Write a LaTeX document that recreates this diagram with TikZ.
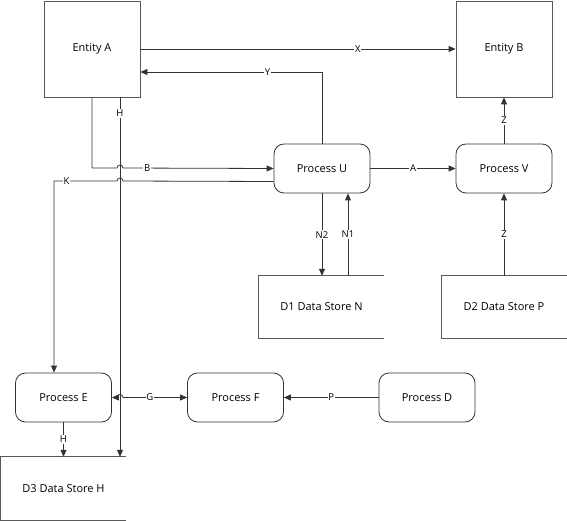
\documentclass[tikz,border=0pt]{standalone}
\usepackage{fontspec}
\setmainfont{Open Sans}
\usetikzlibrary{arrows.meta}

\begin{document}
\begin{tikzpicture}[x=1pt, y=-1pt,
entity/.style={rectangle, draw=black!65, line width=0.8pt, minimum width=96pt, minimum height=96pt, font=\fontsize{11}{13}\selectfont},
process/.style={rectangle, rounded corners=10pt, draw=black!80, line width=0.8pt, minimum width=96pt, minimum height=49pt, font=\fontsize{11}{13}\selectfont},
store/.style={minimum width=125pt, minimum height=62pt, font=\fontsize{11}{13}\selectfont},
flow/.style={draw=black!80, line width=0.8pt, -{Triangle[length=7pt,width=6pt]}},
lbl/.style={fill=white, inner sep=0.8pt, font=\fontsize{9.5}{11}\selectfont}]
\tikzstyle{edge}=[draw=black!65, line width=0.8pt]
\def\hop{3}
\useasboundingbox (0,0) rectangle (567,521);

% Entities
\node[entity] (entA) at (92,49) {Entity A};
\node[entity] (entB) at (504,49) {Entity B};

% Processes
\node[process] (procU) at (322,168.5) {Process U};
\node[process] (procV) at (504,168.5) {Process V};
\node[process] (procE) at (63.5,397.5) {Process E};
\node[process] (procF) at (235.5,397.5) {Process F};
\node[process] (procD) at (427,397.5) {Process D};

% Data stores
\node[store] (d1) at (321.5,307) {D1 Data Store N};
\node[store] (d2) at (504,307) {D2 Data Store P};
\node[store, minimum height=63pt] (d3) at (63.5,488.5) {D3 Data Store H};
\draw[edge] (d1.north east) -- (d1.north west) -- (d1.south west) -- (d1.south east);
\draw[edge] (d2.north east) -- (d2.north west) -- (d2.south west) -- (d2.south east);
\draw[edge] (d3.north east) -- (d3.north west) -- (d3.south west) -- (d3.south east);

\coordinate (hTop) at ([xshift=28pt]entA.south);
\coordinate (kTop) at ([xshift=-9.5pt]procE.north);
\coordinate (n1) at ([xshift=26.5pt]d1.north);

% Flows
\draw[flow] (entA.east) -- node[lbl, pos=0.69] {X} (entB.west);
\draw[flow] (procU.north) |- node[lbl, pos=0.65] {Y} ([yshift=-23pt]entA.east);
\draw[flow] (entA.south) |- (120-\hop,168) arc[start angle=180, end angle=360, radius=\hop] -- node[lbl, pos=0.16] {B} (procU.west);
\draw[flow] ([yshift=-13pt]procU.west) -- (120+\hop,181) arc[start angle=0, end angle=-180, radius=\hop] -- (120-\hop,181) -| node[lbl, pos=0.40] {K} (kTop);
\draw[flow] (hTop) -- node[lbl, pos=0.045] {H} (hTop |- d3.north);
\draw[flow] (procU.east) -- node[lbl] {A} (procV.west);
\draw[flow] (procV.north) -- node[lbl] {Z} (entB.south);
\draw[flow] (d2.north) -- node[lbl] {Z} (procV.south);
\draw[flow] (procU.south) -- node[lbl] {N2} (procU.south |- d1.north);
\draw[flow] (n1) -- node[lbl] {N1} (n1 |- procU.south);
\draw[flow, {Triangle[length=7pt,width=6pt]}-{Triangle[length=7pt,width=6pt]}] (procE.east) -- (120-\hop,397.5) arc[start angle=180, end angle=360, radius=\hop] -- node[lbl, pos=0.42] {G} (procF.west);
\draw[flow] (procD.west) -- node[lbl] {P} (procF.east);
\draw[flow] (procE.south) -- node[lbl] {H} (procE.south |- d3.north);
\end{tikzpicture}
\end{document}
